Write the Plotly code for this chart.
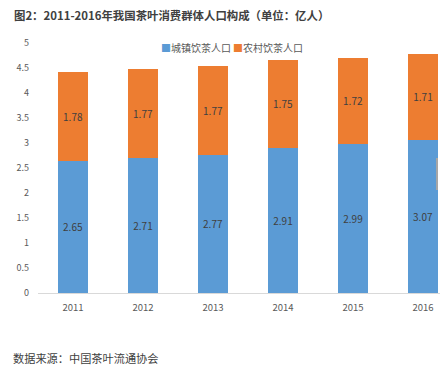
import plotly.graph_objects as go

years = ["2011", "2012", "2013", "2014", "2015", "2016"]
urban = [2.65, 2.71, 2.77, 2.91, 2.99, 3.07]
rural = [1.78, 1.77, 1.77, 1.75, 1.72, 1.71]
series_names = ["城镇饮茶人口", "农村饮茶人口"]
colors = ["#5B9BD5", "#ED7D31"]
title_text = "图2：2011-2016年我国茶叶消费群体人口构成（单位：亿人）"
source_text = "数据来源：中国茶叶流通协会"

FONT = "Noto Sans CJK SC, Open Sans, sans-serif"

fig = go.Figure()
for name, vals, col in zip(series_names, [urban, rural], colors):
    fig.add_trace(go.Bar(
        x=years, y=vals, name=name, marker=dict(color=col, line=dict(width=0)),
        text=[f"{v:.2f}" for v in vals], textposition="inside",
        insidetextanchor="middle",
        textfont=dict(size=10, color="#404040", family=FONT),
        showlegend=False,
    ))

fig.update_layout(
    width=440, height=370,
    barmode="stack", bargap=0.585,
    margin=dict(l=38, r=0, t=43, b=77, autoexpand=False),
    paper_bgcolor="white", plot_bgcolor="white",
    font=dict(family=FONT, color="#595959"),
    uniformtext=dict(minsize=8, mode="show"),
    xaxis=dict(
        range=[-0.5, 5.243], showgrid=False, showline=True, automargin=False,
        linecolor="#D9D9D9", linewidth=1, ticks="",
        tickfont=dict(size=9.5, color="#595959"),
        ticklabelstandoff=6,
    ),
    yaxis=dict(
        range=[0, 5], dtick=0.5, showgrid=False, zeroline=False, automargin=False,
        showline=False, ticks="", tickfont=dict(size=9, color="#595959"),
        ticklabelstandoff=8,
    ),
    shapes=[
        dict(type="line", xref="paper", yref="paper",
             x0=(437-38)/402, x1=(437-38)/402, y0=(293-158)/250, y1=(293-190)/250,
             line=dict(color="#A6A6A6", width=2)),
    ],
    annotations=[
        dict(text=f"<b>{title_text}</b>", xref="paper", yref="paper",
             x=-26/402, y=(293-15)/250, xanchor="left", yanchor="middle",
             showarrow=False, font=dict(size=11.4, color="#404040", family=FONT)),
        dict(text=f"<span style='color:{colors[0]}'>■</span>{series_names[0]}",
             xref="paper", yref="paper", x=(159-38)/402, y=(293-47)/250,
             xanchor="left", yanchor="middle", showarrow=False,
             font=dict(size=10, color="#595959", family=FONT)),
        dict(text=f"<span style='color:{colors[1]}'>■</span>{series_names[1]}",
             xref="paper", yref="paper", x=(231-38)/402, y=(293-47)/250,
             xanchor="left", yanchor="middle", showarrow=False,
             font=dict(size=10, color="#595959", family=FONT)),
        dict(text=source_text, xref="paper", yref="paper",
             x=-27/402, y=(293-358)/250, xanchor="left", yanchor="middle",
             showarrow=False, font=dict(size=11.2, color="#404040", family=FONT)),
    ],
)

fig.write_html("out.html", config={"displayModeBar": False},
               post_script="document.body.style.margin='0';document.body.style.overflow='hidden';")
